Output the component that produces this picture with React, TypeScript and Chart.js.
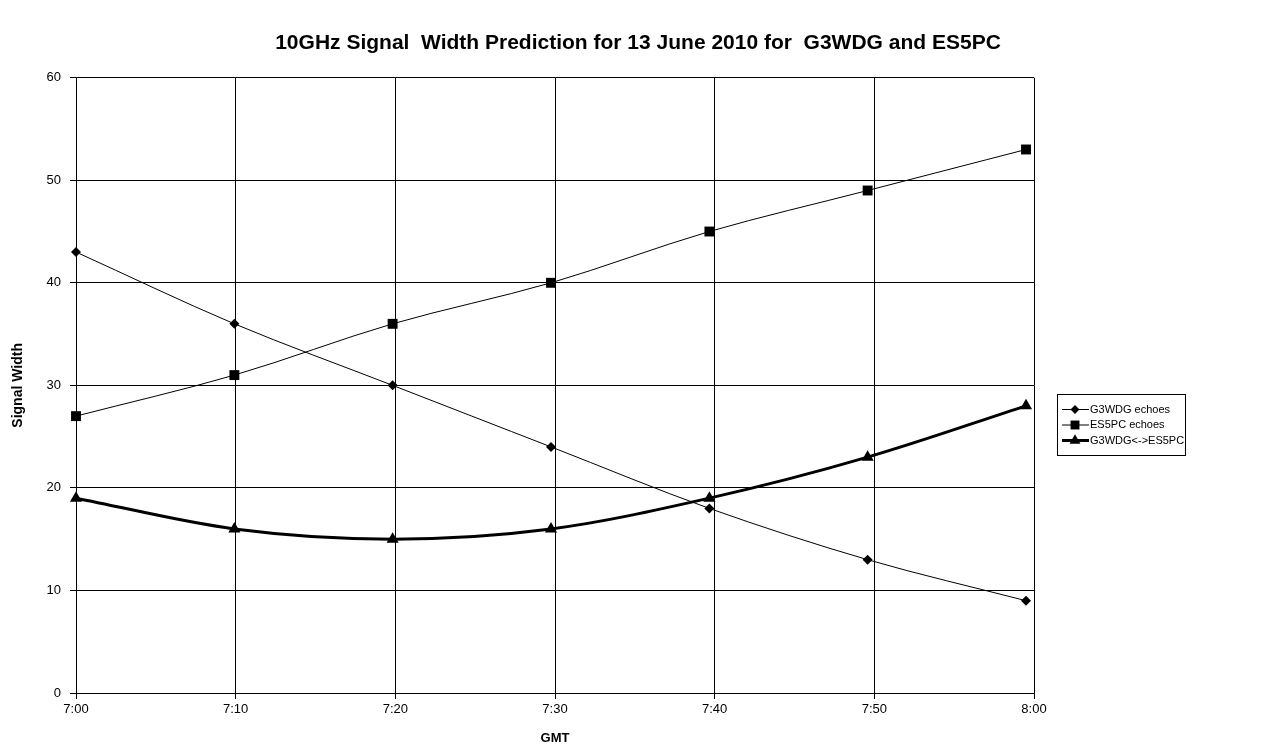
import React, { useEffect, useRef } from 'react';
import { Chart, registerables } from 'chart.js';

Chart.register(...registerables);

// Minutes after 7:00 GMT for each prediction point
const minutes = [0, 9.92, 19.83, 29.75, 39.67, 49.58, 59.5];
const g3wdgEchoes = [43, 36, 30, 24, 18, 13, 9];
const es5pcEchoes = [27, 31, 36, 40, 45, 49, 53];
const linkWidth = [19, 16, 15, 16, 19, 23, 28];
const seriesNames = ['G3WDG echoes', 'ES5PC echoes', 'G3WDG<->ES5PC'];
const xTickLabels = ['7:00', '7:10', '7:20', '7:30', '7:40', '7:50', '8:00'];
const yTickValues = [0, 10, 20, 30, 40, 50, 60];

const FONT = "'Liberation Sans', Arial, sans-serif";

const toPoints = (ys: number[]) => ys.map((y, i) => ({ x: minutes[i], y }));

const legendPlugin = {
  id: 'boxLegend',
  afterDraw(chart: any) {
    const ctx = chart.ctx;
    const left = 1057.5, top = 394.5, w = 128, h = 61;
    ctx.save();
    ctx.fillStyle = '#fff';
    ctx.fillRect(left, top, w, h);
    ctx.strokeStyle = '#000';
    ctx.lineWidth = 1;
    ctx.strokeRect(left, top, w, h);
    const rowY = [409.5, 425, 440.5];
    chart.data.datasets.forEach((ds: any, i: number) => {
      const y = rowY[i];
      ctx.strokeStyle = '#000';
      ctx.lineWidth = ds.borderWidth;
      ctx.beginPath();
      ctx.moveTo(1062, y);
      ctx.lineTo(1089, y);
      ctx.stroke();
      ctx.fillStyle = '#000';
      const cx = 1075;
      const r = ds.pointRadius * 0.9;
      ctx.beginPath();
      if (ds.pointStyle === 'rectRot') {
        ctx.moveTo(cx - r, y); ctx.lineTo(cx, y - r); ctx.lineTo(cx + r, y); ctx.lineTo(cx, y + r);
      } else if (ds.pointStyle === 'rect') {
        const s = r * Math.SQRT1_2;
        ctx.rect(cx - s, y - s, 2 * s, 2 * s);
      } else {
        ctx.moveTo(cx, y - r);
        ctx.lineTo(cx + r * Math.sin(2 * Math.PI / 3), y - r * Math.cos(2 * Math.PI / 3));
        ctx.lineTo(cx + r * Math.sin(4 * Math.PI / 3), y - r * Math.cos(4 * Math.PI / 3));
      }
      ctx.closePath();
      ctx.fill();
      ctx.font = `11px ${FONT}`;
      ctx.textAlign = 'left';
      ctx.textBaseline = 'middle';
      ctx.fillText(ds.label, 1090, y);
    });
    ctx.restore();
  },
};

export default function App() {
  const ref = useRef<HTMLCanvasElement | null>(null);

  useEffect(() => {
    document.body.style.margin = '0';
    const canvas = ref.current;
    if (!canvas) return;
    const chart = new Chart(canvas, {
      type: 'line',
      data: {
        datasets: [
          {
            label: seriesNames[0],
            data: toPoints(g3wdgEchoes),
            borderColor: '#000',
            backgroundColor: '#000',
            borderWidth: 1,
            pointStyle: 'rectRot',
            pointRadius: 5,
            pointBorderWidth: 0,
            tension: 0.33,
            clip: false,
            order: 2,
          },
          {
            label: seriesNames[1],
            data: toPoints(es5pcEchoes),
            borderColor: '#000',
            backgroundColor: '#000',
            borderWidth: 1,
            pointStyle: 'rect',
            pointRadius: 7,
            pointBorderWidth: 0,
            tension: 0.33,
            clip: false,
            order: 1,
          },
          {
            label: seriesNames[2],
            data: toPoints(linkWidth),
            borderColor: '#000',
            backgroundColor: '#000',
            borderWidth: 3,
            pointStyle: 'triangle',
            pointRadius: 7,
            pointBorderWidth: 0,
            tension: 0.33,
            clip: false,
            order: 0,
          },
        ],
      },
      options: {
        responsive: false,
        animation: false,
        layout: { padding: 0 },
        plugins: {
          legend: { display: false },
          tooltip: { enabled: false },
          title: {
            display: true,
            text: '10GHz Signal  Width Prediction for 13 June 2010 for  G3WDG and ES5PC',
            color: '#000',
            font: { family: FONT, size: 21, weight: 'bold' },
            padding: { top: 30.4, bottom: 22.1 },
          },
        },
        scales: {
          x: {
            type: 'linear',
            min: 0,
            max: 60,
            afterFit: (s: any) => { s.height = 60; },
            afterBuildTicks: (s: any) => {
              s.ticks = xTickLabels.map((_, i) => ({ value: i * 10 }));
            },
            ticks: {
              color: '#000',
              font: { family: FONT, size: 13 },
              padding: 3,
              maxRotation: 0,
              autoSkip: false,
              callback: (v: any) => xTickLabels[Math.round(Number(v) / 10)],
            },
            grid: { color: '#000', lineWidth: 1, tickLength: 6, tickColor: '#000' },
            border: { color: '#000', width: 1 },
            title: {
              display: true,
              text: 'GMT',
              color: '#000',
              font: { family: FONT, size: 13, weight: 'bold' },
              padding: { top: 0, bottom: 7.2 },
            },
          },
          y: {
            type: 'linear',
            min: 0,
            max: 60,
            afterFit: (s: any) => { s.width = 76; },
            afterBuildTicks: (s: any) => {
              s.ticks = yTickValues.map((v) => ({ value: v }));
            },
            ticks: {
              color: '#000',
              font: { family: FONT, size: 13 },
              padding: 9,
            },
            grid: { color: '#000', lineWidth: 1, tickLength: 6, tickColor: '#000' },
            border: { color: '#000', width: 1 },
            title: {
              display: true,
              text: 'Signal Width',
              color: '#000',
              font: { family: FONT, size: 14, weight: 'bold' },
              padding: { top: 9.6, bottom: 0 },
            },
          },
          legendSpace: {
            type: 'linear',
            position: 'right',
            display: true,
            afterFit: (s: any) => { s.width = 242; },
            ticks: { display: false },
            grid: { display: false, drawTicks: false },
            border: { display: false },
          },
        },
      },
      plugins: [legendPlugin],
    });
    return () => chart.destroy();
  }, []);

  return (
    <div style={{ width: 1276, height: 753, background: '#fff' }}>
      <canvas ref={ref} width={1276} height={753} style={{ display: 'block' }} />
    </div>
  );
}
